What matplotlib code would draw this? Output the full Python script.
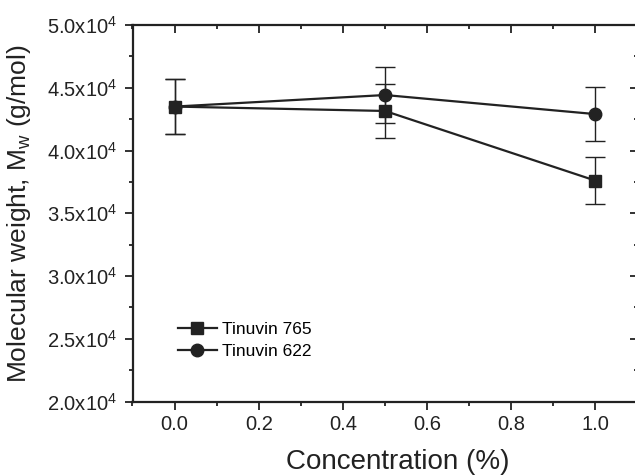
import matplotlib
matplotlib.use("Agg")
import matplotlib.pyplot as plt
import matplotlib.ticker as mtick
from matplotlib.lines import Line2D, TICKDOWN, TICKLEFT

plt.rcParams['font.family'] = ['Liberation Sans', 'DejaVu Sans']
plt.rcParams['mathtext.fontset'] = 'custom'
plt.rcParams['mathtext.rm'] = 'Liberation Sans'
plt.rcParams['mathtext.it'] = 'Liberation Sans'
plt.rcParams['mathtext.default'] = 'regular'

# data
concentration = [0.0, 0.5, 1.0]
mw_765 = [43500, 43150, 37600]
err_765 = [2180, 2150, 1850]
mw_622 = [43500, 44420, 42900]
err_622 = [2200, 2200, 2130]

ink = '#222222'
dpi = 100

fig = plt.figure(figsize=(635 / dpi, 476 / dpi), dpi=dpi)
ax = fig.add_axes([132.5 / 635, 74.5 / 476, 505 / 635, 376.5 / 476])

ax.errorbar(concentration, mw_622, yerr=err_622, color=ink, marker='o', markersize=9,
            linewidth=1.6, elinewidth=1.0, capsize=7, capthick=1.0, zorder=3)
ax.errorbar(concentration, mw_765, yerr=err_765, color=ink, marker='s', markersize=8.5,
            linewidth=1.6, elinewidth=1.0, capsize=7, capthick=1.0, zorder=4)

ax.set_xlim(-0.1, 1.1)
ax.set_ylim(20000, 50000)
ax.xaxis.set_major_locator(mtick.MultipleLocator(0.2))
ax.xaxis.set_minor_locator(mtick.MultipleLocator(0.1))
ax.yaxis.set_major_locator(mtick.MultipleLocator(5000))
ax.yaxis.set_minor_locator(mtick.MultipleLocator(2500))
ax.xaxis.set_major_formatter(mtick.FuncFormatter(lambda v, p: f'{v:.1f}'))
ax.yaxis.set_major_formatter(mtick.FuncFormatter(lambda v, p: f'{v / 1e4:.1f}x10$^{{4}}$'))

for s in ax.spines.values():
    s.set_linewidth(1.6)
    s.set_color(ink)

ax.tick_params(which='both', top=True, right=True, direction='out', colors=ink,
               width=1.3, labelsize=14.5)
ax.tick_params(which='major', length=6)
ax.tick_params(which='minor', length=3)
ax.tick_params(axis='x', pad=4)
ax.tick_params(axis='y', pad=5)
# mirrored ticks keep the same absolute direction: top and right point inward
for t in ax.xaxis.get_major_ticks() + ax.xaxis.get_minor_ticks():
    t.tick2line.set_marker(TICKDOWN)
for t in ax.yaxis.get_major_ticks() + ax.yaxis.get_minor_ticks():
    t.tick2line.set_marker(TICKLEFT)

ax.set_xlabel('Concentration (%)', fontsize=20, color=ink)
ax.set_ylabel('Molecular weight, M$_w$ (g/mol)', fontsize=19, color=ink)
ax.xaxis.set_label_coords(0.525, -0.127)
ax.yaxis.set_label_coords(-0.198, 0.5)

handles = [
    Line2D([], [], color=ink, marker='s', markersize=8.5, linewidth=1.6),
    Line2D([], [], color=ink, marker='o', markersize=9, linewidth=1.6),
]
ax.legend(handles, ['Tinuvin 765', 'Tinuvin 622'], loc='lower left',
          bbox_to_anchor=(0.077, 0.094), frameon=False, fontsize=12.5,
          handlelength=2.2, handletextpad=0.3, labelspacing=0.4, borderaxespad=0)

fig.savefig('out.png', dpi=dpi)
